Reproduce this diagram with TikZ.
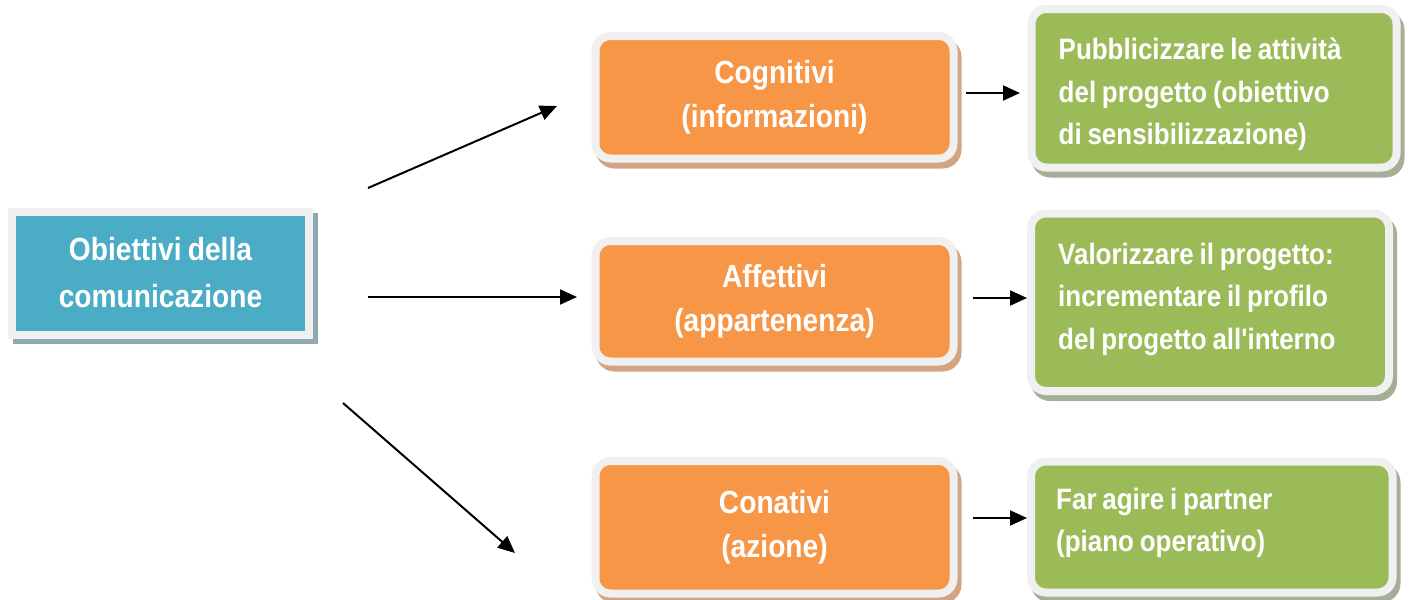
\documentclass[tikz,border=0pt]{standalone}
\usepackage{fontspec}
\setmainfont{Liberation Sans}[FakeStretch=0.88, WordSpace=0.8, Ligatures=TeXOff]
\usepackage{tikz}
\usetikzlibrary{arrows.meta,positioning,shadows}
\definecolor{goalblue}{HTML}{4BACC6}
\definecolor{levelorange}{HTML}{F79646}
\definecolor{actiongreen}{HTML}{9BBB59}
\definecolor{framegray}{HTML}{F0F0F0}
\definecolor{blueshade}{HTML}{8FA9B1}
\definecolor{orangeshade}{HTML}{D1A584}
\definecolor{greenshade}{HTML}{A6AE98}
\tikzset{
  panel/.style={draw=framegray, line width=8pt, inner sep=0pt, text=white,
    font=\fontsize{32}{44}\selectfont\bfseries},
  goal/.style={panel, fill=goalblue, align=center, font=\fontsize{32}{47}\selectfont\bfseries,
    drop shadow={shadow xshift=5pt, shadow yshift=-5pt, fill=blueshade, draw=blueshade, line width=8pt, opacity=1}},
  level/.style={panel, fill=levelorange, rounded corners=15pt, align=center,
    drop shadow={shadow xshift=4pt, shadow yshift=-6pt, fill=orangeshade, draw=orangeshade, line width=8pt, opacity=1}},
  action/.style={panel, fill=actiongreen, rounded corners=15pt,
    drop shadow={shadow xshift=4pt, shadow yshift=-6pt, fill=greenshade, draw=greenshade, line width=8pt, opacity=1}},
  actiontext/.style={inner sep=0pt, align=left, text=white,
    font=\fontsize{29.5}{42.5}\selectfont\bfseries},
  arrow/.style={-{Triangle[length=17pt,width=15pt]}, line width=2pt}
}
\begin{document}
\begin{tikzpicture}[x=1pt, y=-1pt]
  \useasboundingbox (0,0) rectangle (1409,600);

  % obiettivo generale
  \node[goal, minimum width=297pt, minimum height=123pt] (obiet) at (160.5,273) {Obiettivi della\\ comunicazione};

  % livelli
  \node[level, minimum width=358pt, minimum height=122.5pt] (cogn) at (774.5,97.25) {Cognitivi\\ (informazioni)};
  \node[level, minimum width=358pt, minimum height=120.5pt] (affet) at (774.5,301.25) {Affettivi\\ (appartenenza)};
  \node[level, minimum width=358pt, minimum height=132.5pt] (conat) at (774.5,527.25) {Conativi\\ (azione)};

  % azioni
  \node[action, minimum width=365pt, minimum height=158.5pt] (pubbl) at (1214,88.25) {};
  \node[action, minimum width=358pt, minimum height=177.5pt] (valor) at (1210,302.25) {};
  \node[action, minimum width=361.5pt, minimum height=131pt] (agire) at (1211.75,527) {};
  \node[actiontext, right=31pt of pubbl.west, yshift=-6pt] (pubbl-txt) {Pubblicizzare le attività\\ del progetto (obiettivo\\ di sensibilizzazione)};
  \node[actiontext, right=31pt of valor.west, yshift=3pt] (valor-txt) {Valorizzare il progetto:\\ incrementare il profilo\\ del progetto all'interno};
  \node[actiontext, right=29pt of agire.west, yshift=4pt] (agire-txt) {Far agire i partner\\ (piano operativo)};

  % estremi delle frecce
  \coordinate (obiet-up) at (368,188);
  \coordinate (obiet-mid) at (368,297);
  \coordinate (obiet-low) at (343,403);
  \coordinate (cogn-in) at (557,106);
  \coordinate (affet-in) at (577,297);
  \coordinate (conat-in) at (515,553);
  \coordinate (cogn-out) at (966,93);
  \coordinate (affet-out) at (973,298);
  \coordinate (conat-out) at (973,518);
  \coordinate (pubbl-in) at (1020,93);
  \coordinate (valor-in) at (1027,298);
  \coordinate (agire-in) at (1027,518);

  \draw[arrow] (obiet-up) -- (cogn-in);
  \draw[arrow] (obiet-mid) -- (affet-in);
  \draw[arrow] (obiet-low) -- (conat-in);
  \draw[arrow] (cogn-out) -- (pubbl-in);
  \draw[arrow] (affet-out) -- (valor-in);
  \draw[arrow] (conat-out) -- (agire-in);
\end{tikzpicture}
\end{document}
